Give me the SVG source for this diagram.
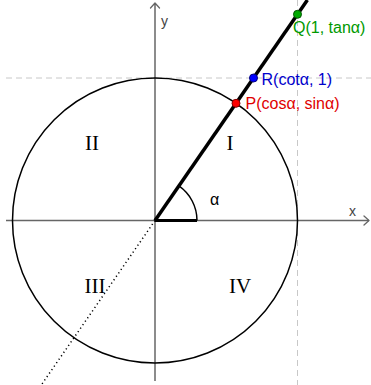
<svg xmlns="http://www.w3.org/2000/svg" width="371" height="385" viewBox="0 0 371 385">
<defs>
<style>
.axis{stroke:#666;stroke-width:1.5;fill:none}
.arrow{stroke:#666;stroke-width:1.3;fill:none;stroke-linecap:round;stroke-linejoin:round}
.guide{stroke:#c8c8c8;stroke-width:1;stroke-dasharray:6 4;fill:none}
.roman{font-family:"Liberation Serif",serif;font-size:21px;fill:#000;text-anchor:middle}
.lbl{font-family:"Liberation Sans",Arial,sans-serif;font-size:16px}
.axlbl{font-family:"Liberation Sans",Arial,sans-serif;font-size:14px;fill:#444}
</style>
</defs>
<rect width="371" height="385" fill="#fff"/>
<g id="guides">
<line class="guide" x1="6" y1="78" x2="371" y2="78"/>
<line class="guide" x1="297.5" y1="0" x2="297.5" y2="385"/>
</g>
<g id="axes">
<line class="axis" x1="6" y1="220.5" x2="369" y2="220.5"/>
<polyline class="arrow" points="364,216 369,220.5 364,225"/>
<line class="axis" x1="155" y1="381" x2="155" y2="3"/>
<polyline class="arrow" points="150.5,8 155,3 159.5,8"/>
<text class="axlbl" x="349" y="216">x</text>
<text class="axlbl" x="161" y="26">y</text>
</g>
<g id="circle">
<circle cx="155" cy="220.5" r="142.5" fill="none" stroke="#000" stroke-width="1.5"/>
</g>
<g id="connectors">
<line x1="155" y1="220.5" x2="307.4" y2="0" stroke="#000" stroke-width="3.5"/>
<line x1="155" y1="220.5" x2="41.3" y2="385" stroke="#000" stroke-width="1.5" stroke-dasharray="1.2 3"/>
</g>
<g id="angle">
<line x1="155" y1="220.5" x2="197" y2="220.5" stroke="#000" stroke-width="3"/>
<path d="M197,220.5 A42,42 0 0 0 178.9,185.95" fill="none" stroke="#000" stroke-width="1.5"/>
<text class="lbl" x="210" y="205" fill="#000">α</text>
</g>
<g id="quadrants">
<text class="roman" x="92" y="150">II</text>
<text class="roman" x="230" y="150">I</text>
<text class="roman" x="95" y="293">III</text>
<text class="roman" x="240" y="293">IV</text>
</g>
<g id="P">
<circle cx="236" cy="103.3" r="4" fill="#ff0000" stroke="#800000" stroke-width="1"/>
<text class="lbl" x="245.5" y="108.5" fill="#e00000">P(cosα, sinα)</text>
</g>
<g id="R">
<circle cx="253.5" cy="78" r="4" fill="#0000ff" stroke="#000080" stroke-width="1"/>
<text class="lbl" x="261.5" y="85" fill="#0000cc">R(cotα, 1)</text>
</g>
<g id="Q">
<circle cx="297.5" cy="14.3" r="4" fill="#00aa00" stroke="#005500" stroke-width="1"/>
<text class="lbl" x="293" y="33" fill="#009900">Q(1, tanα)</text>
</g>
</svg>
